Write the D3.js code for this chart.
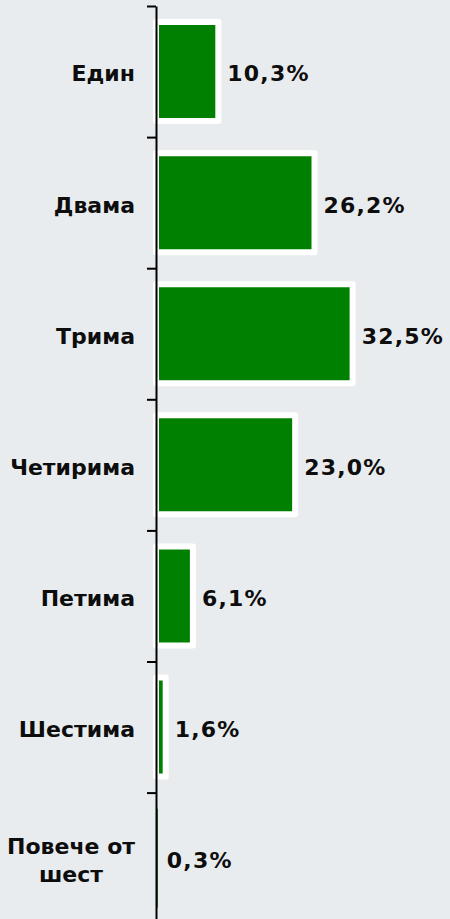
<!DOCTYPE html>
<html>
<head>
<meta charset="utf-8">
<script src="https://cdn.jsdelivr.net/npm/d3@7"></script>
<style>
  html, body { margin: 0; padding: 0; background: #e9ecee; }
  svg text { font-family: "DejaVu Sans", Verdana, sans-serif; font-weight: bold; fill: #0d0d0d; }
</style>
</head>
<body>
<div id="chart"></div>
<script>
// share of households by number of members
const categories = ["Един", "Двама", "Трима", "Четирима", "Петима", "Шестима", "Повече от шест"];
const shares = [10.3, 26.2, 32.5, 23.0, 6.1, 1.6, 0.3];

const width = 450, height = 919;
const axisX = 156, topY = 6, step = 131.1;

const svg = d3.select('#chart')
  .append('svg')
  .attr('width', width)
  .attr('height', height);

svg.append('rect')
  .attr('width', width)
  .attr('height', height)
  .attr('fill', '#e9ecee');

const y = d3.scaleBand()
  .domain(categories)
  .range([topY, topY + step * categories.length])
  .paddingInner(0.245)
  .paddingOuter(0.1225);

const x = d3.scaleLinear()
  .domain([0, 40])
  .range([axisX, axisX + 242]);

// bars, white outline (very thin bars get no outline, like the original)
svg.selectAll('rect.bar')
  .data(shares)
  .join('rect')
  .attr('class', 'bar')
  .attr('x', x(0))
  .attr('y', (d, i) => y(categories[i]))
  .attr('width', d => x(d) - x(0))
  .attr('height', y.bandwidth())
  .attr('fill', '#008000')
  .attr('stroke', d => (x(d) - x(0)) < 4 ? 'none' : '#fff')
  .attr('stroke-width', 6)
  .attr('stroke-linejoin', 'round');

// value labels
svg.selectAll('text.val')
  .data(shares)
  .join('text')
  .attr('class', 'val')
  .attr('x', d => x(d) + 9)
  .attr('y', (d, i) => y(categories[i]) + y.bandwidth() / 2)
  .attr('dy', '0.45em')
  .attr('font-size', 22)
  .attr('letter-spacing', 1.2)
  .text(d => d.toFixed(1).replace('.', ',') + '%');

// axis: ticks sit on the band boundaries
const edges = d3.scaleLinear()
  .domain([0, categories.length])
  .range([topY, topY + step * categories.length]);

const axis = svg.append('g')
  .attr('transform', `translate(${axisX},0)`)
  .call(d3.axisLeft(edges)
    .tickValues(d3.range(categories.length + 1))
    .tickFormat('')
    .tickSizeInner(9)
    .tickSizeOuter(0));
axis.select('.domain').attr('stroke', '#000').attr('stroke-width', 2);
axis.selectAll('.tick line').attr('stroke', '#000').attr('stroke-width', 2);

// category labels, wrapped if too long
const labelX = 135, lineH = 28;
svg.selectAll('text.cat')
  .data(categories)
  .join('text')
  .attr('class', 'cat')
  .attr('font-size', 22)
  .each(function(d) {
    const t = d3.select(this);
    const cy = y(d) + y.bandwidth() / 2;
    const words = d.split(' ');
    let lines = [];
    if (words.length > 2) {
      lines = [words.slice(0, 2).join(' '), words.slice(2).join(' ')];
    } else {
      lines = [d];
    }
    if (lines.length == 1) {
      t.attr('x', labelX).attr('y', cy).attr('dy', '0.45em')
        .attr('text-anchor', 'end').text(d);
    } else {
      // measure first line, center the block under it
      t.text(lines[0]);
      const w = this.getComputedTextLength();
      t.text(null);
      const cx = labelX - w / 2;
      t.attr('text-anchor', 'middle');
      lines.forEach((ln, k) => {
        t.append('tspan')
          .attr('x', cx)
          .attr('y', cy + (k - (lines.length - 1) / 2) * lineH)
          .attr('dy', '0.45em')
          .text(ln);
      });
    }
  });
</script>
</body>
</html>
